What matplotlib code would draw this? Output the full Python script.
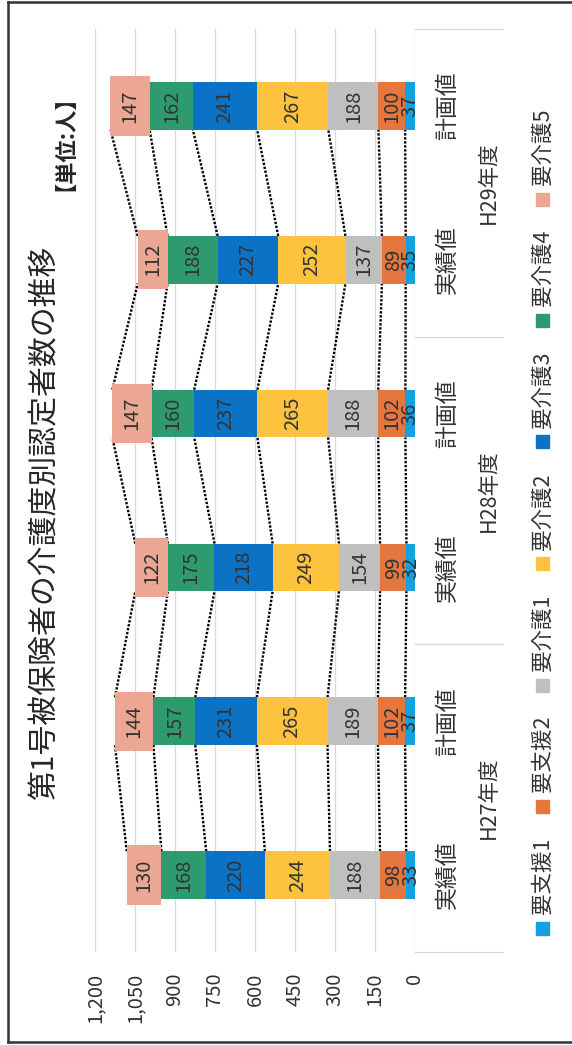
"""第1号被保険者の介護度別認定者数の推移 - rotated stacked bar chart"""
import matplotlib
matplotlib.use('Agg')
import matplotlib.pyplot as plt
from matplotlib.patches import Rectangle
import numpy as np

plt.rcParams['font.family'] = ['Noto Sans CJK JP', 'DejaVu Sans']

# data (bottom to top in the rotated picture)
categories = ['実績値', '計画値', '実績値', '計画値', '実績値', '計画値']
groups = ['H27年度', 'H28年度', 'H29年度']
series_names = ['要支援1', '要支援2', '要介護1', '要介護2', '要介護3', '要介護4', '要介護5']
shien1 = [33, 37, 32, 36, 35, 37]
shien2 = [98, 102, 99, 102, 89, 100]
kaigo1 = [188, 189, 154, 188, 137, 188]
kaigo2 = [244, 265, 249, 265, 252, 267]
kaigo3 = [220, 231, 218, 237, 227, 241]
kaigo4 = [168, 157, 175, 160, 188, 162]
kaigo5 = [130, 144, 122, 147, 112, 147]
value_ticks = [0, 150, 300, 450, 600, 750, 900, 1050, 1200]

colors = ['#15A0E2', '#E4763F', '#BFBFBF', '#FDC33E', '#0B72C6', '#2E9B6F', '#EBA694']
txt = '#333333'

W, H = 572, 1045


def fx(px):
    return px / W


def fy(py):
    return 1 - py / H


fig = plt.figure(figsize=(W / 100, H / 100), dpi=100)
ax = fig.add_axes([fx(95), fy(952), fx(415) - fx(95), fy(29) - fy(952)])

series = [shien1, shien2, kaigo1, kaigo2, kaigo3, kaigo4, kaigo5]
y = np.arange(len(categories))
bar_h = 0.31
left = np.zeros(len(categories))
ends = []
for k, vals in enumerate(series):
    vals = np.array(vals)
    h = 0.385 if k == len(series) - 1 else bar_h
    ax.barh(y, vals, left=left, height=h, color=colors[k], zorder=2)
    for i, v in enumerate(vals):
        ax.text(left[i] + v / 2, y[i], str(v), rotation=90, ha='center', va='center',
                fontsize=14.5, color=txt, zorder=4)
    left = left + vals
    ends.append(left.copy())

# series lines (dotted) between neighbouring bars
for end in ends:
    for i in range(len(categories) - 1):
        ax.plot([end[i], end[i + 1]], [y[i] + bar_h / 2, y[i + 1] - bar_h / 2],
                color='black', linestyle=(0, (1, 0.7)), linewidth=1.7, zorder=1)

ax.set_xlim(1200, 0)
ax.set_ylim(-0.5, len(categories) - 0.5)
ax.set_xticks(value_ticks)
ax.set_xticklabels([f'{t:,}' for t in value_ticks])
ax.tick_params(axis='x', length=0, pad=15, labelrotation=90, labelsize=14.5, labelcolor=txt)
ax.grid(axis='x', color='#D9D9D9', linewidth=0.9, zorder=0)
ax.set_axisbelow(True)
for s in ax.spines.values():
    s.set_visible(False)

# category labels on the right side
ax.set_yticks(y)
ax.set_yticklabels(categories)
ax.yaxis.tick_right()
ax.tick_params(axis='y', length=0, pad=15, labelrotation=90, labelsize=16.5, labelcolor=txt)
for lab in ax.get_yticklabels():
    lab.set_va('center')

trans = ax.get_yaxis_transform()
for g, name in enumerate(groups):
    ax.text(1.23, 2 * g + 0.5, name, transform=trans, rotation=90, ha='center', va='center',
            fontsize=15.5, color=txt)
for b in [-0.5, 1.5, 3.5, 5.5]:
    ax.plot([1.0, 1.275], [b, b], transform=trans, color='#D9D9D9', linewidth=0.9, clip_on=False)

# title and unit
fig.text(fx(45), fy(523), '第1号被保険者の介護度別認定者数の推移', rotation=90,
         ha='center', va='center', fontsize=21.5, color='#262626')
fig.text(fx(55), fy(132), '【単位:人】', rotation=90, ha='center', va='center',
         fontsize=16, fontweight='bold', color='#262626')

# legend drawn by hand (rotated)
for k, name in enumerate(series_names):
    my = 928 - 121.5 * k
    fig.add_artist(Rectangle((fx(542 - 6.5), fy(my + 6.5)), 13 / W, 13 / H,
                             transform=fig.transFigure, color=colors[k]))
    fig.text(fx(543), fy(my - 14), name, rotation=90, ha='center', va='bottom',
             fontsize=15.5, color=txt)

# frame
for xs, ys in [([7.5, 7.5], [2, 1042]), ([7.5, 572], [2, 2]), ([7.5, 572], [1042, 1042])]:
    fig.add_artist(plt.Line2D([fx(v) for v in xs], [fy(v) for v in ys],
                              transform=fig.transFigure, color='#333333', linewidth=1.8))

fig.savefig('out.png', dpi=100)
plt.close(fig)
print("[OK] out.png")
